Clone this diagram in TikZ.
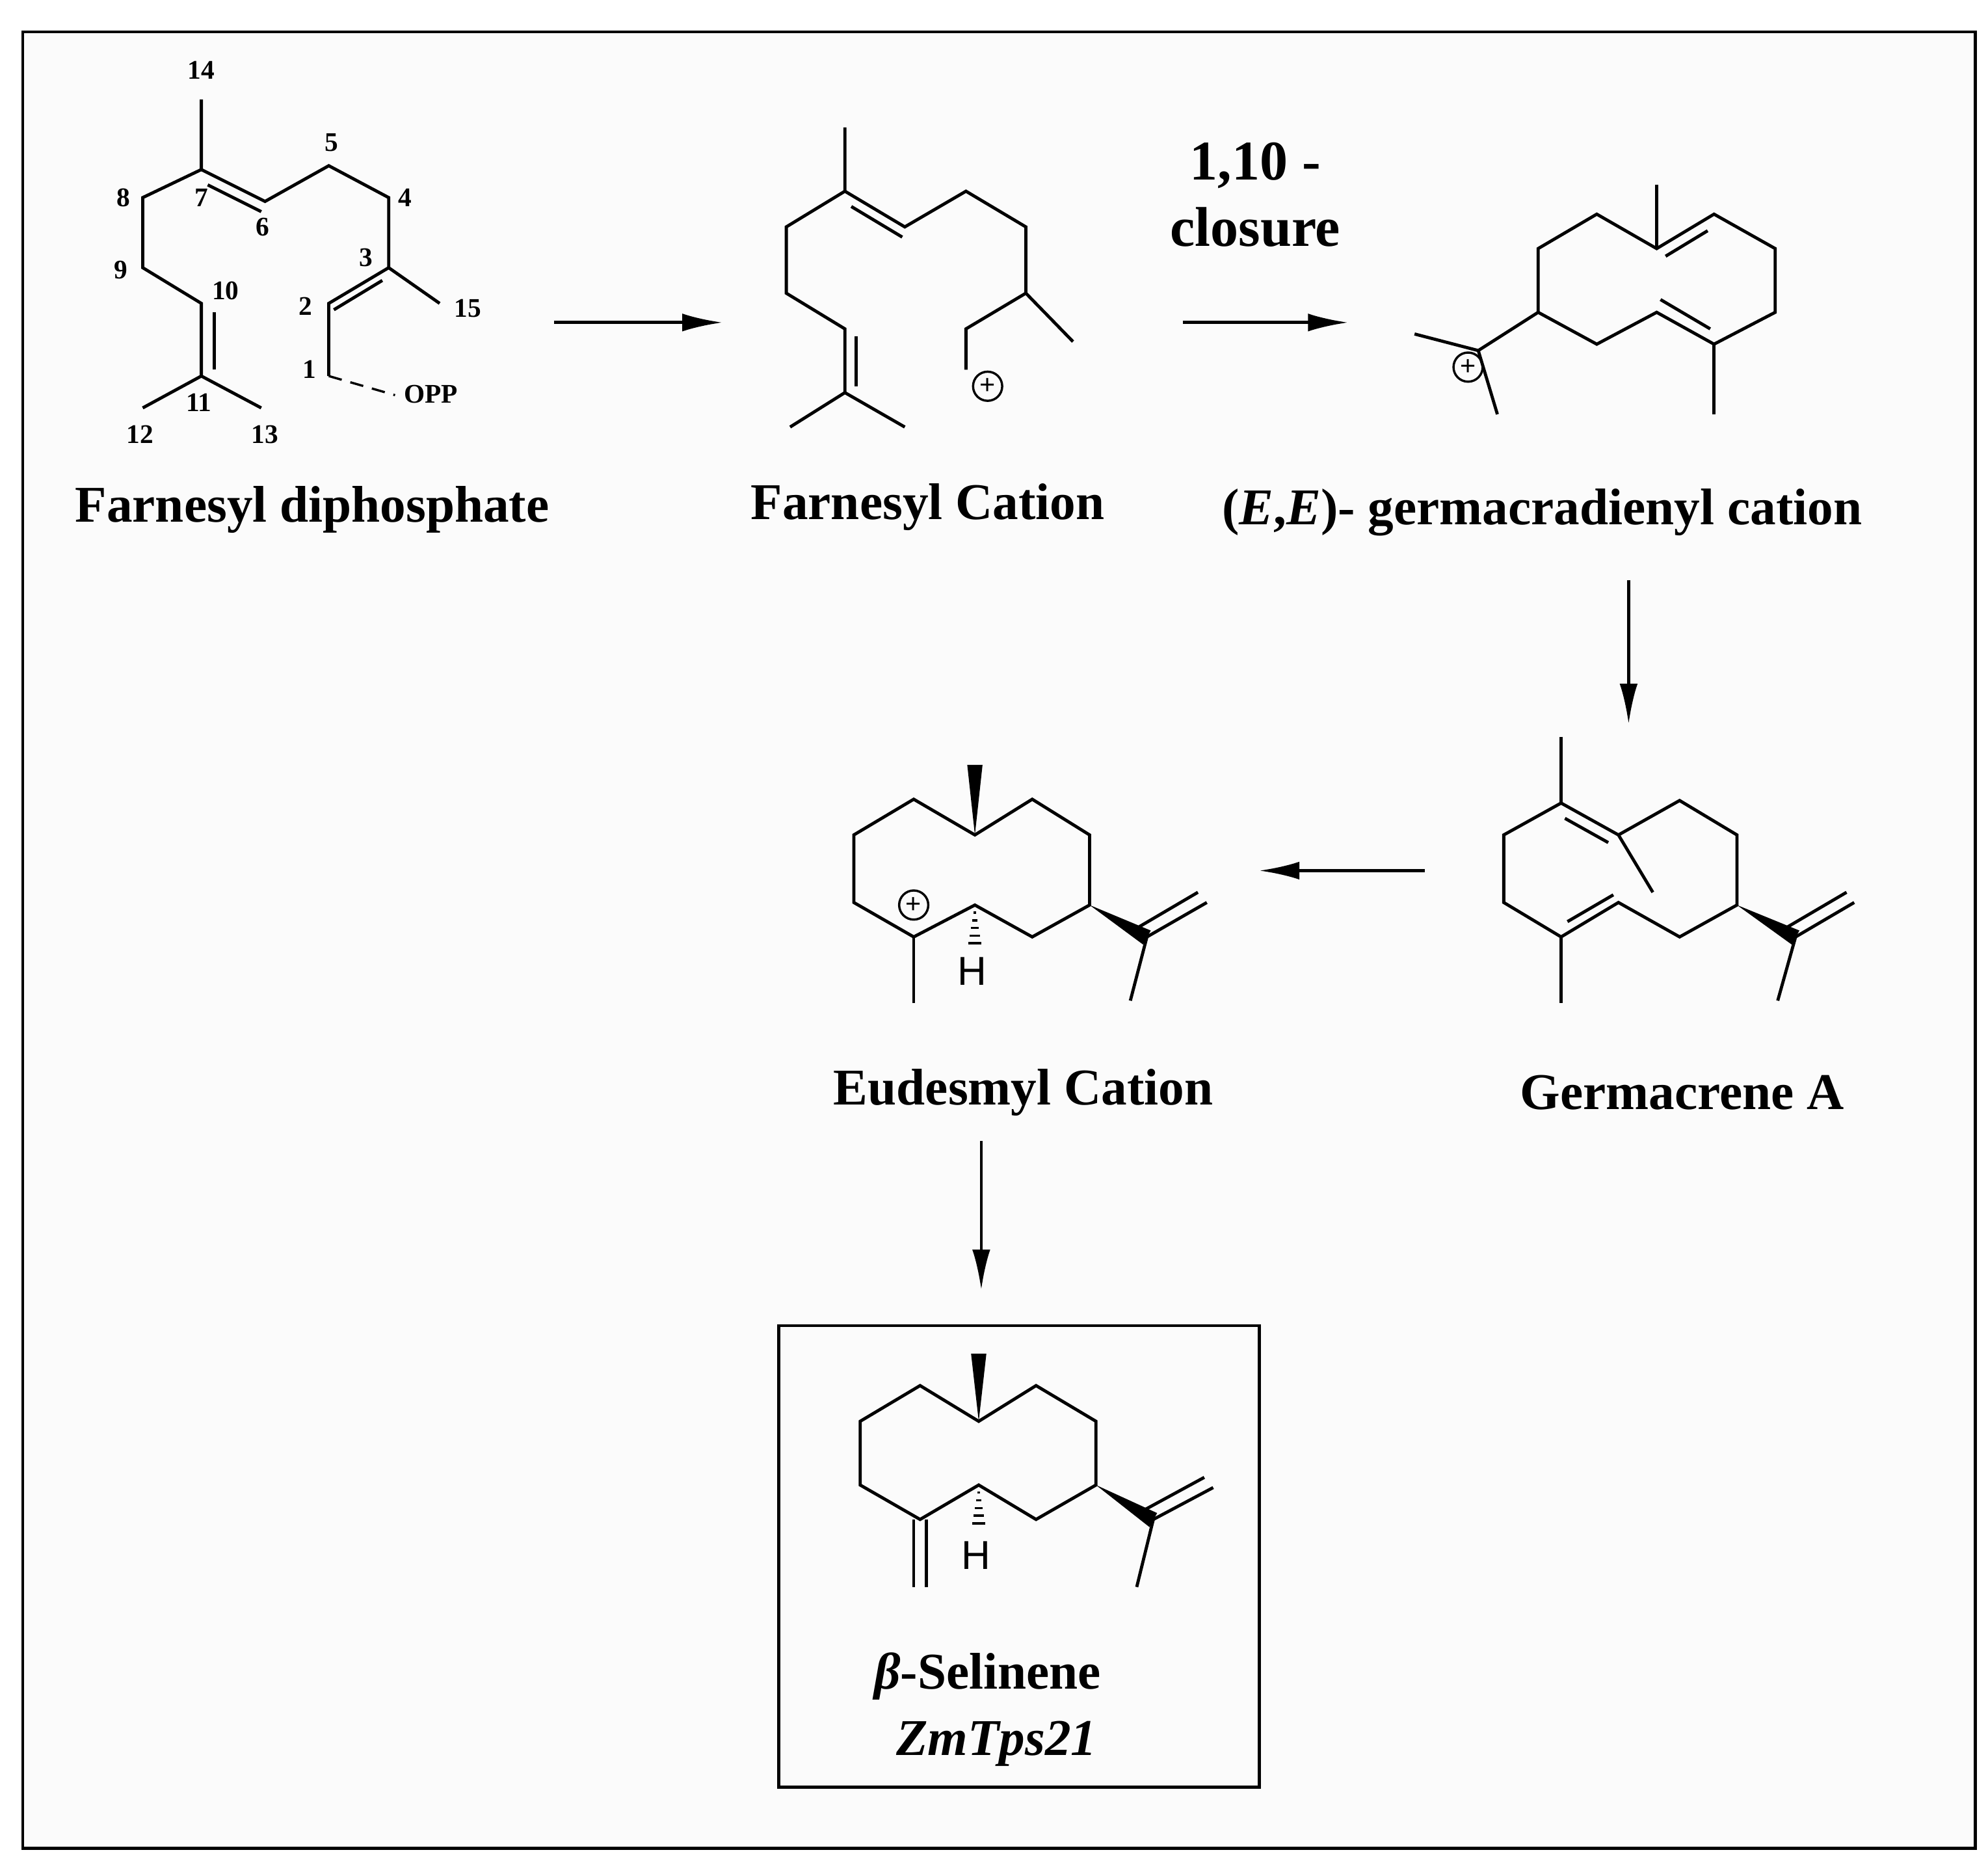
\documentclass[tikz,border=0pt]{standalone}
\usepackage{fontspec}
\setmainfont{Liberation Serif}
\newfontfamily\hfont{Liberation Sans}
\usetikzlibrary{arrows.meta}
\begin{document}
\begin{tikzpicture}[x=0.01cm,y=-0.01cm,line width=0.7pt,
 lbl/.style={font=\fontsize{11.5}{13}\selectfont\bfseries},
 num/.style={font=\fontsize{6}{7}\selectfont\bfseries,inner sep=1pt},
 rx/.style={-{Latex[length=9pt,width=4pt]},line width=0.7pt},
 hh/.style={font=\hfont\fontsize{9}{10}\selectfont,inner sep=0pt},
 plus/.style={circle,draw,inner sep=0pt,minimum size=6.5pt,font=\hfont\fontsize{6}{6}\selectfont,line width=0.5pt}]
\useasboundingbox (0,0) rectangle (1560,1459.5);
\draw[fill=gray!3,line width=0.6pt] (18,25) rectangle (1550,1450);
% ---- Farnesyl diphosphate
\draw (158,78)--(158,133)--(112,155)--(112,210)--(158,238)--(158,295);
\draw (168,245)--(168,290);
\draw (112,320)--(158,295)--(205,320);
\draw (158,133)--(208,158)--(258,130)--(305,155)--(305,210)--(345,238);
\draw (163,145)--(205,166);
\draw (305,210)--(258,238)--(258,295);
\draw (300,220)--(262,243);
\draw[densely dashed,line width=0.5pt] (258,295)--(310,310);
\node[num] at (158,55) {14};
\node[num] at (260,112) {5};
\node[num] at (318,155) {4};
\node[num] at (97,155) {8};
\node[num] at (158,155) {7};
\node[num] at (206,178) {6};
\node[num] at (287,202) {3};
\node[num] at (95,212) {9};
\node[num] at (177,228) {10};
\node[num] at (240,240) {2};
\node[num] at (367,242) {15};
\node[num] at (243,290) {1};
\node[num] at (338,309) {OPP};
\node[num] at (156,316) {11};
\node[num] at (110,341) {12};
\node[num] at (208,341) {13};
\node[lbl] (l1) at (245,400) {Farnesyl diphosphate};
% arrow 1
\coordinate (a1s) at (435,253); \coordinate (a1e) at (567,253);
\draw[rx] (a1s)--(a1e);
% ---- Farnesyl cation
\draw (663,100)--(663,150)--(617,178)--(617,230)--(663,258)--(663,308);
\draw (672,264)--(672,303);
\draw (620,335)--(663,308)--(710,335);
\draw (663,150)--(710,178)--(758,150)--(805,178)--(805,230)--(842,268);
\draw (668,162)--(708,186);
\draw (805,230)--(758,258)--(758,290);
\node[plus] at (775,303) {+};
\node[lbl] (l2) at (728,398) {Farnesyl Cation};
% arrow 2
\coordinate (a2s) at (928,253); \coordinate (a2e) at (1058,253);
\draw[rx] (a2s)--(a2e);
\node[lbl,font=\fontsize{12.5}{14}\selectfont\bfseries] at (985,130) {1,10 -};
\node[lbl,font=\fontsize{12.5}{14}\selectfont\bfseries] at (985,178) {closure};
% ---- germacradienyl
\draw (1207,195)--(1253,168)--(1300,195)--(1345,168)--(1393,195)--(1393,245)--(1345,270)--(1300,245)--(1253,270)--(1207,245)--cycle;
\draw (1307,201)--(1340,181);
\draw (1303,235)--(1342,258);
\draw (1300,195)--(1300,145);
\draw (1345,270)--(1345,325);
\draw (1207,245)--(1160,275);
\draw (1110,262)--(1160,275)--(1175,325);
\node[plus] at (1152,288) {+};
\node[lbl] (l3) at (1210,402) {(\textit{E},\textit{E})- germacradienyl cation};
% arrow 3
\coordinate (a3s) at (1278,455); \coordinate (a3e) at (1278,568);
\draw[rx] (a3s)--(a3e);
% ---- Germacrene A
\draw (1225,630)--(1270,655)--(1318,628)--(1363,655)--(1363,710)--(1318,735)--(1270,708)--(1225,735)--(1180,708)--(1180,655)--cycle;
\draw (1228,642)--(1262,661);
\draw (1230,723)--(1266,702);
\draw (1225,578)--(1225,630);
\draw (1270,655)--(1297,700);
\draw (1225,735)--(1225,787);
\fill (1363,710)--(1412,730)--(1406,741)--cycle;
\draw (1409,735)--(1455,708);
\draw (1403,727)--(1449,700);
\draw (1409,735)--(1395,785);
\node[lbl] (l4) at (1320,857) {Germacrene A};
% arrow 4
\coordinate (a4s) at (1118,683); \coordinate (a4e) at (988,683);
\draw[rx] (a4s)--(a4e);
% ---- Eudesmyl cation
\draw (717,627)--(765,655)--(810,627)--(855,655)--(855,710)--(810,735)--(765,710)--(717,735)--(670,708)--(670,655)--cycle;
\fill (765,655)--(759,600)--(771,600)--cycle;
\node[plus] at (717,710) {+};
\draw (717,735)--(717,787);
\foreach \t in {0.2,0.4,0.6,0.8,1.0} \draw[line width=0.5pt] (765-5*\t,710+30*\t)--(765+5*\t,710+30*\t);
\node[hh] at (763,762) {H};
\fill (855,710)--(903,730)--(897,741)--cycle;
\draw (900,735)--(947,708);
\draw (894,727)--(940,700);
\draw (900,735)--(887,785);
\node[lbl] (l5) at (803,857) {Eudesmyl Cation};
% arrow 5
\coordinate (a5s) at (770,895); \coordinate (a5e) at (770,1012);
\draw[rx] (a5s)--(a5e);
% ---- beta-selinene
\draw (611,1040) rectangle (988,1402);
\draw (722,1087)--(768,1115)--(813,1087)--(860,1115)--(860,1165)--(813,1192)--(768,1165)--(722,1192)--(675,1165)--(675,1115)--cycle;
\fill (768,1115)--(762,1062)--(774,1062)--cycle;
\draw (717,1192)--(717,1245);
\draw (727,1192)--(727,1245);
\foreach \t in {0.2,0.4,0.6,0.8,1.0} \draw[line width=0.5pt] (768-5*\t,1165+30*\t)--(768+5*\t,1165+30*\t);
\node[hh] at (766,1220) {H};
\fill (860,1165)--(908,1187)--(902,1198)--cycle;
\draw (905,1192)--(952,1167);
\draw (899,1184)--(945,1159);
\draw (905,1192)--(892,1245);
\node[lbl] (l6) at (775,1315) {\textit{β}-Selinene};
\node[lbl] (l7) at (782,1368) {\textit{ZmTps21}};
\end{tikzpicture}
\end{document}
